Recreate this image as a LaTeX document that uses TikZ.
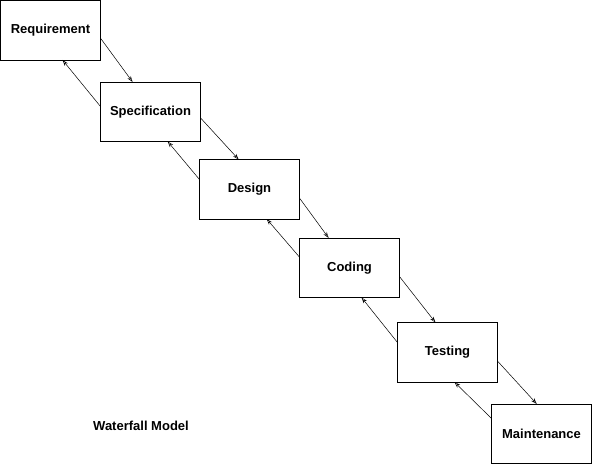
\documentclass[tikz,border=0pt]{standalone}
\usepackage{fontspec}
\setmainfont{Liberation Sans}
\usetikzlibrary{arrows.meta,positioning}

\begin{document}
\begin{tikzpicture}[
x=1bp, y=-1bp,
font=\fontsize{13bp}{15bp}\selectfont\bfseries,
stage/.style={draw, minimum width=100bp, minimum height=59.5bp, inner sep=0pt, outer sep=0pt, line width=0.8bp},
arrow/.style={-{Stealth[open, length=6bp, width=4bp]}, line width=0.5bp}
]
\useasboundingbox (0,0) rectangle (592,464);
\node[stage, anchor=north west] (req) at (0.5,0.5) {Requirement};
\node[stage, below right=22bp and 0bp of req] (spec) {Specification};
\node[stage, below right=18bp and -1bp of spec] (design) {Design};
\node[stage, below right=19bp and 0bp of design] (coding) {Coding};
\node[stage, below right=25bp and -2bp of coding] (testing) {Testing};
\node[stage, below right=22bp and -6bp of testing] (maint) {Maintenance};
\node (title) at (141,426) {Waterfall Model};

% forward
\draw[arrow] (req.-9) -- (spec.121);
\draw[arrow] (spec.-7) -- (design.110);
\draw[arrow] (design.-10) -- (coding.125);
\draw[arrow] (coding.-10) -- (testing.112);
\draw[arrow] (testing.-10) -- (maint.99);
% back
\draw[arrow] (spec.174) -- (req.-68);
\draw[arrow] (design.169) -- (spec.-60);
\draw[arrow] (coding.168) -- (design.-60);
\draw[arrow] (testing.169) -- (coding.-68);
\draw[arrow] (maint.163) -- (testing.-77);
\end{tikzpicture}
\end{document}
